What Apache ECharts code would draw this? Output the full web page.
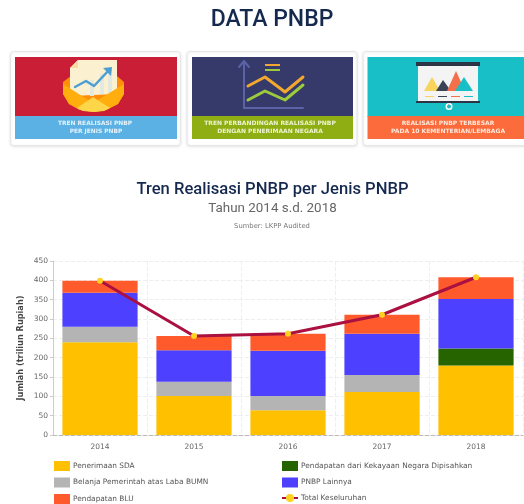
<!DOCTYPE html>
<html><head><meta charset="utf-8">
<style>html,body{margin:0;padding:0;background:#fff;overflow:hidden}#c{width:524px;height:504px}</style>
<script src="https://cdn.jsdelivr.net/npm/echarts@6/dist/echarts.min.js"></script>
</head><body><div id="c"></div>
<script>
const years=['2014','2015','2016','2017','2018'];
const sda=[240,101,64,111,180];
const kekayaan=[0,0,0,0,44];
const bumn=[40,37,37,44,0];
const lainnya=[88,81,117,107,128];
const blu=[31,37,44,49,56];
const total=[399,256,262,311,408];
const yTicks=[0,50,100,150,200,250,300,350,400,450];
const F='Roboto, sans-serif', V='"DejaVu Sans", sans-serif';
const rect=(x,y,w,h,fill,extra)=>Object.assign({type:'rect',shape:{x,y,width:w,height:h},style:{fill}},extra||{});
const line=(pts,stroke,w)=>({type:'polyline',shape:{points:pts},style:{stroke,lineWidth:w,fill:null,lineCap:'round',lineJoin:'round'}});
const poly=(pts,fill)=>({type:'polygon',shape:{points:pts},style:{fill}});
const txt=(x,y,t,fill,size,weight,fam)=>({type:'text',x,y,style:{text:t,fill,font:`${weight||'normal'} ${size}px ${fam||V}`,align:'center',verticalAlign:'middle'}});
const card=(x,w)=>({type:'rect',shape:{x,y:51.5,width:w,height:94,r:3},style:{fill:'#fff',stroke:'#e6e6e6',lineWidth:1,shadowBlur:3,shadowColor:'rgba(0,0,0,.1)',shadowOffsetY:1}});
const g=[
 card(10.5,170),card(187,170),card(363,175),
 rect(15,57,162,60,'#c91e35'),rect(15,116,162,23,'#5bb1e4'),
 rect(192,57,161,60,'#353a6a'),rect(192,116,161,23,'#8fae13'),
 rect(367.5,57,157,60,'#19bfc6'),rect(367.5,116,157,23,'#fb6b3c'),
 // envelope icon
 poly([[63,82],[71,76],[117,76],[124,82],[124,94],[118,104],[106,110],[94,112],[80,110],[69,104],[63,94]],'#ff8f0a'),
 poly([[70,68],[78,60],[117,60],[117,94],[70,96]],'#fbf0cf'),
 poly([[70,68],[78,60],[78,68]],'#f3dd9f'),
 rect(90,80,4,16,'#e3e9de'),rect(100,74,4,20,'#e3e9de'),rect(108,70,4,24,'#e3e9de'),
 line([[75,87],[86,81],[94,86],[110,69]],'#4d9fd1',2.5),
 poly([[103,68],[112,67],[111,76]],'#4d9fd1'),
 poly([[63,84],[93,103],[124,84],[124,94],[118,104],[106,110],[94,112],[80,110],[69,104],[63,94]],'#ffae0d'),
 poly([[77,108],[93,97],[110,108],[104,111],[94,112],[83,111]],'#ffd54a'),
 // line chart icon
 line([[244,62],[244,108],[303,108]],'#5c62a6',2),
 line([[239,67],[244,61],[249,67]],'#5c62a6',2),
 line([[248,86],[265,77],[285,92],[303,77]],'#f2a72e',3),
 line([[248,100],[265,91],[285,100],[303,85]],'#9ccb3d',3),
 rect(265,64,15,2,'#f2a72e'),rect(265,69,15,2,'#9ccb3d'),
 // presentation icon
 rect(416,62,64,4,'#2c3446'),rect(418,66,60,35,'#f4f4f4'),rect(416,101,64,2,'#2c3446'),
 poly([[424,91],[432,77],[440,91]],'#f8d45c'),poly([[436,91],[443,80],[451,91]],'#3a4256'),
 poly([[447,91],[456,71],[465,91]],'#f4704a'),poly([[455,91],[464,77],[473,91]],'#19bfc6'),
 rect(425,96,9,1,'#f8d45c'),rect(438,96,9,1,'#3a4256'),rect(451,96,9,1,'#f4704a'),rect(464,96,9,1,'#19bfc6'),
 rect(448,103,1.5,2,'#2c3446'),
 {type:'ring',shape:{cx:449,cy:106.5,r:3.5,r0:2},style:{fill:'#fff'}},
 txt(95,123.3,'TREN REALISASI PNBP','#e6f2fa',5.9,'bold'),txt(96,131.8,'PER JENIS PNBP','#e6f2fa',5.9,'bold'),
 txt(270,123.3,'TREN PERBANDINGAN REALISASI PNBP','#eef4cf',6,'bold'),txt(270,131.8,'DENGAN PENERIMAAN NEGARA','#eef4cf',6,'bold'),
 txt(448,123.3,'REALISASI PNBP TERBESAR','#ffe9dc',6,'bold'),txt(448,131.8,'PADA 10 KEMENTERIAN/LEMBAGA','#ffe9dc',6,'bold'),
 txt(272,20.5,'DATA PNBP','#15294f',23,'500',F),
 txt(272.5,190,'Tren Realisasi PNBP per Jenis PNBP','#15294f',16.6,'500',F),
 txt(272.5,209,'Tahun 2014 s.d. 2018','#666',13.4,'normal',F),
 txt(272,226.5,'Sumber: LKPP Audited','#777',6.8,'normal')
];
const bar=(name,data,color)=>({name,type:'bar',stack:'a',data,barWidth:'80%',itemStyle:{color},emphasis:{disabled:true}});
const chart=echarts.init(document.getElementById('c'),null,{renderer:'canvas'});
const legendCommon={orient:'vertical',itemWidth:16,itemHeight:10,itemGap:6.5,padding:0,textStyle:{fontFamily:V,fontSize:7.4,color:'#555',padding:[0,0,0,-2]}};
const items=(names)=>names.map(name=>name==='Total Keseluruhan'?{name}:{name,icon:'rect'});
chart.setOption({
 animation:false,
 graphic:{elements:g},
 grid:{left:53,right:1,top:261,height:174},
 legend:[
  Object.assign({left:54,top:461,data:items(['Penerimaan SDA','Belanja Pemerintah atas Laba BUMN','Pendapatan BLU'])},legendCommon),
  Object.assign({left:281,top:461,data:items(['Pendapatan dari Kekayaan Negara Dipisahkan','PNBP Lainnya','Total Keseluruhan'])},legendCommon)
 ],
 xAxis:{type:'category',data:years,axisTick:{show:false},
  axisLine:{lineStyle:{color:'#bbb',type:'dashed'}},
  splitLine:{show:true,lineStyle:{color:'#eee',type:'dashed'}},
  axisLabel:{fontFamily:V,fontSize:7.5,color:'#666',margin:8}},
 yAxis:{type:'value',min:yTicks[0],max:yTicks[yTicks.length-1],interval:yTicks[1]-yTicks[0],
  name:'Jumlah (triliun Rupiah)',nameLocation:'middle',nameGap:28,nameMoveOverlap:false,
  nameTextStyle:{fontFamily:V,fontSize:8.2,fontWeight:'bold',color:'#444'},
  axisLine:{show:true,lineStyle:{color:'#ccc'}},axisTick:{show:true,length:3,lineStyle:{color:'#ccc'}},
  splitLine:{lineStyle:{color:'#eee',type:'dashed'}},
  axisLabel:{fontFamily:V,fontSize:7.5,color:'#666',margin:5}},
 series:[
  bar('Penerimaan SDA',sda,'#ffc000'),
  bar('Pendapatan dari Kekayaan Negara Dipisahkan',kekayaan,'#266400'),
  bar('Belanja Pemerintah atas Laba BUMN',bumn,'#b4b4b4'),
  bar('PNBP Lainnya',lainnya,'#4d41ff'),
  bar('Pendapatan BLU',blu,'#ff5a2c'),
  {name:'Total Keseluruhan',type:'line',data:total,symbol:'circle',symbolSize:6,z:5,
   lineStyle:{color:'#aa1040',width:3},itemStyle:{color:'#ffd21f',borderColor:'#ffd21f',borderWidth:0}}
 ]
});
</script></body></html>
